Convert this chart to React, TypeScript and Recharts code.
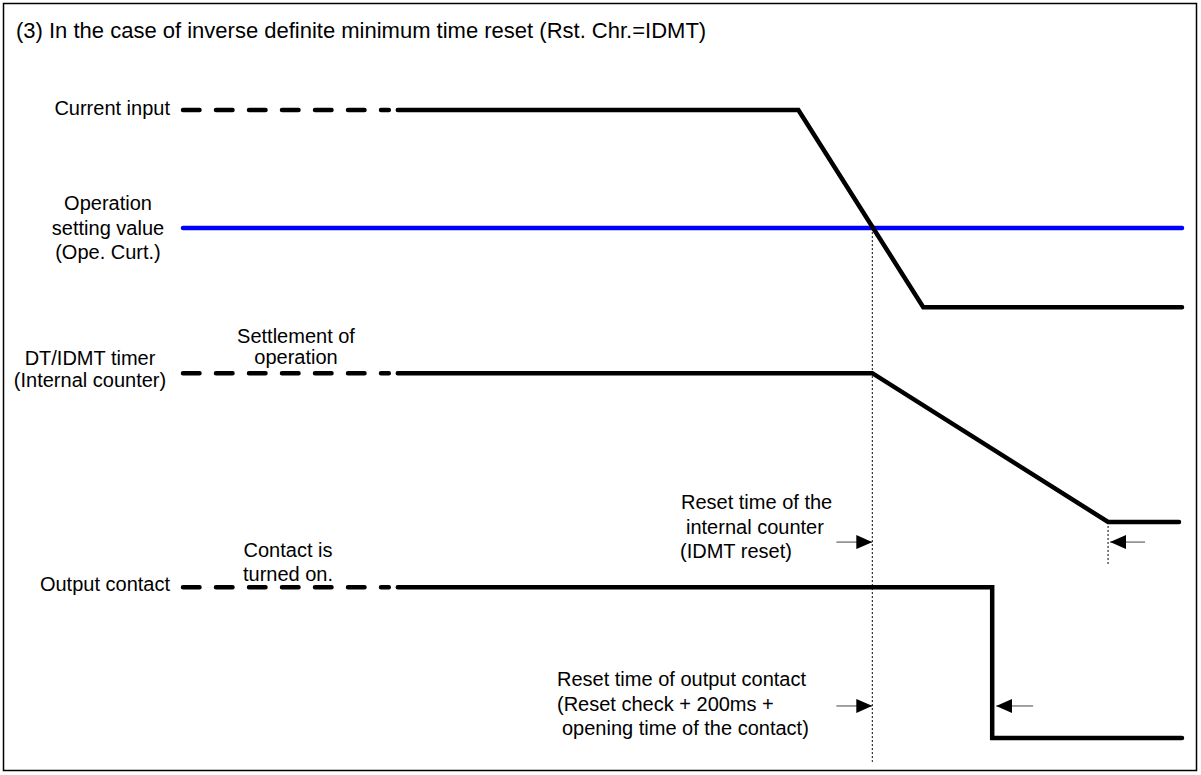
import { Line, LineChart, ReferenceLine, XAxis, YAxis } from "recharts";

// time runs 0..100 across the drawn window, level runs 0..100 down through the lanes
const currentDashed = [
  { t: 0, v: 100 },
  { t: 20.6, v: 100 },
];
const currentSolid = [
  { t: 21.5, v: 100 },
  { t: 61.6, v: 100 },
  { t: 74.1, v: 68.6 },
  { t: 100, v: 68.6 },
];
const settingValue = [
  { t: 0, v: 81.2 },
  { t: 100, v: 81.2 },
];
const timerDashed = [
  { t: 0, v: 58.1 },
  { t: 20.6, v: 58.1 },
];
const timerSolid = [
  { t: 21.5, v: 58.1 },
  { t: 69, v: 58.1 },
  { t: 92.6, v: 34.4 },
  { t: 99.7, v: 34.4 },
];
const outputDashed = [
  { t: 0, v: 24 },
  { t: 20.6, v: 24 },
];
const outputSolid = [
  { t: 21.5, v: 24 },
  { t: 81, v: 24 },
  { t: 81, v: 0 },
  { t: 100, v: 0 },
];

// markers: pickup instant, end of IDMT reset
const pickupTime = 69;
const timerResetEnd = 92.6;
const guideBottom = -3.8;
const timerGuideBottom = 27.4;

// arrows [fromT, toT, level]
const arrows: Array<[number, number, number]> = [
  [65.4, 69, 31.2],
  [96.3, 92.8, 31.2],
  [65.4, 69, 5.1],
  [85.1, 81.4, 5.1],
];

const FONT = "Arial, 'Liberation Sans', sans-serif";
const DASH = "16.5 16.5";

function Lines(
  x: number,
  lines: string[],
  y0: number,
  step: number,
  anchor = "middle",
  size = 20,
) {
  return (
    <text x={x} y={y0} fontSize={size} fontFamily={FONT} fill="#000" textAnchor={anchor}>
      {lines.map((s, i) => (
        <tspan key={i} x={x} dy={i === 0 ? 0 : step}>
          {s}
        </tspan>
      ))}
    </text>
  );
}

export default function App() {
  const lineProps = {
    dataKey: "v",
    type: "linear" as const,
    dot: false,
    activeDot: false,
    isAnimationActive: false,
    strokeWidth: 4.5,
    strokeLinecap: "round" as const,
  };
  return (
    <div style={{ position: "absolute", left: 0, top: 0, background: "#fff" }}>
      <LineChart
        width={1201}
        height={775}
        margin={{ top: 110, right: 19, bottom: 37, left: 183 }}
      >
        <defs>
          <marker
            id="arrowHead"
            viewBox="0 0 16 14"
            markerUnits="userSpaceOnUse"
            markerWidth={16}
            markerHeight={14}
            refX={16}
            refY={7}
            orient="auto"
          >
            <path d="M0,0 L16,7 L0,14 Z" fill="#000" />
          </marker>
        </defs>
        <rect x={3.5} y={3.5} width={1193} height={767} fill="none" stroke="#000" strokeWidth={1.5} />
        <XAxis dataKey="t" type="number" domain={[0, 100]} hide />
        <YAxis type="number" domain={[0, 100]} hide />

        <ReferenceLine
          segment={[
            { x: pickupTime, y: 81.2 },
            { x: pickupTime, y: guideBottom },
          ]}
          stroke="#000"
          strokeWidth={1}
          strokeDasharray="2 2"
          ifOverflow="visible"
        />
        <ReferenceLine
          segment={[
            { x: timerResetEnd, y: 34.4 },
            { x: timerResetEnd, y: timerGuideBottom },
          ]}
          stroke="#000"
          strokeWidth={1}
          strokeDasharray="2 2"
          ifOverflow="visible"
        />
        {arrows.map(([from, to, lvl], i) => (
          <ReferenceLine
            key={i}
            segment={[
              { x: from, y: lvl },
              { x: to, y: lvl },
            ]}
            stroke="#444"
            strokeWidth={1}
            markerEnd="url(#arrowHead)"
            ifOverflow="visible"
          />
        ))}

        <Line {...lineProps} data={settingValue} stroke="#0000ff" />
        <Line {...lineProps} data={currentDashed} stroke="#000" strokeDasharray={DASH} />
        <Line {...lineProps} data={currentSolid} stroke="#000" />
        <Line {...lineProps} data={timerDashed} stroke="#000" strokeDasharray={DASH} />
        <Line {...lineProps} data={timerSolid} stroke="#000" />
        <Line {...lineProps} data={outputDashed} stroke="#000" strokeDasharray={DASH} />
        <Line {...lineProps} data={outputSolid} stroke="#000" />

        {Lines(16, ["(3) In the case of inverse definite minimum time reset (Rst. Chr.=IDMT)"], 38, 0, "start", 22)}
        {Lines(170, ["Current input"], 115, 0, "end")}
        {Lines(108, ["Operation", "setting value", "(Ope. Curt.)"], 210, 24.5)}
        {Lines(90, ["DT/IDMT timer", "(Internal counter)"], 365, 22)}
        {Lines(296, ["Settlement of", "operation"], 343, 21)}
        {Lines(288, ["Contact is", "turned on."], 557, 24)}
        {Lines(170, ["Output contact"], 591, 0, "end")}
        {Lines(681, ["Reset time of the"], 509, 0, "start")}
        {Lines(686, ["internal counter"], 534, 0, "start")}
        {Lines(680, ["(IDMT reset)"], 558, 0, "start")}
        {Lines(557, ["Reset time of output contact", "(Reset check + 200ms +"], 686, 24.5, "start")}
        {Lines(562, ["opening time of the contact)"], 735, 0, "start")}
      </LineChart>
    </div>
  );
}
